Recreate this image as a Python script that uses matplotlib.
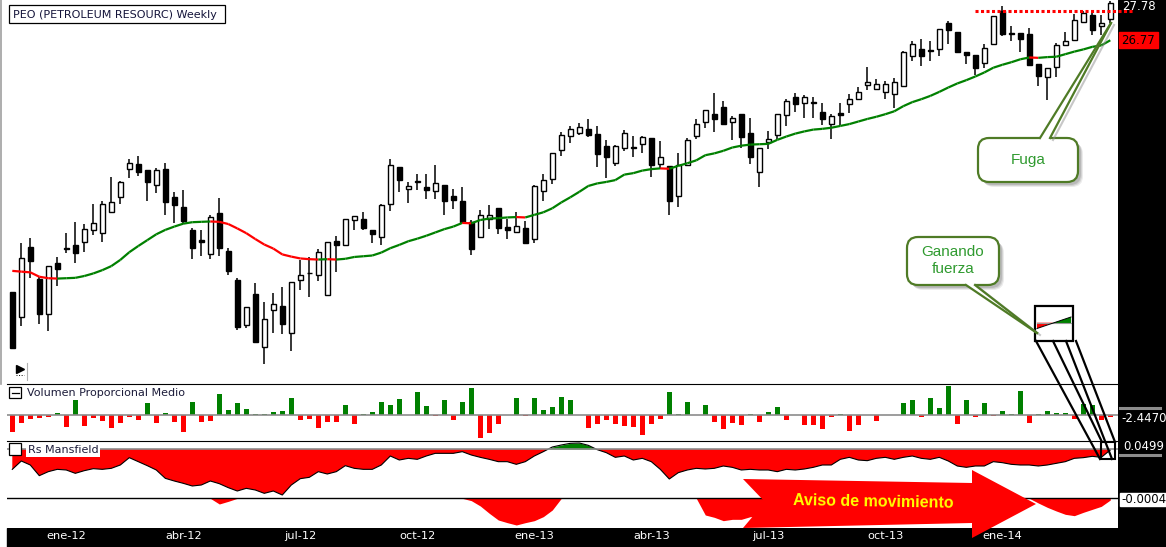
import matplotlib
matplotlib.use("Agg")
import numpy as np
import matplotlib.pyplot as plt
from matplotlib.collections import LineCollection
from matplotlib.patches import Rectangle, Polygon, FancyBboxPatch

W, H = 1166, 547

# weekly candles, PEO
opens = [19.88, 19.21, 21.13, 20.24, 19.29, 20.69, 21.09, 21.19, 21.25, 21.59,
         21.50, 22.08, 22.48, 23.24, 23.38, 23.22, 22.81, 23.24, 22.48, 22.21,
         21.59, 21.31, 20.92, 22.04, 21.00, 20.21, 18.99, 19.83, 18.38, 19.39,
         19.50, 18.77, 20.21, 20.42, 20.35, 19.80, 21.28, 21.17, 21.85, 21.90,
         21.60, 21.39, 22.31, 23.32, 22.72, 22.92, 22.76, 22.64, 22.81, 22.51,
         22.37, 21.81, 21.39, 21.90, 22.18, 21.66, 21.52, 21.63, 21.33, 22.64,
         22.97, 23.76, 24.15, 24.25, 24.34, 24.20, 23.87, 23.43, 23.82, 23.85,
         23.93, 24.09, 23.38, 23.33, 22.51, 23.37, 24.15, 24.53, 24.75, 24.94,
         24.55, 24.75, 24.25, 23.16, 23.98, 24.17, 24.72, 25.21, 25.05, 25.07,
         24.80, 24.47, 24.77, 25.04, 25.16, 25.54, 25.43, 25.37, 25.29, 25.51,
         26.33, 26.52, 26.50, 26.52, 27.23, 26.99, 26.44, 26.36, 26.14, 26.66,
         27.56, 26.96, 26.96, 26.93, 26.11, 25.76, 26.03, 26.63, 26.77, 27.26,
         27.45, 27.15, 27.34]
highs = [19.90, 21.22, 21.36, 20.31, 20.61, 20.85, 21.50, 21.80, 21.74, 22.30,
         22.37, 23.03, 22.93, 23.54, 23.61, 23.22, 23.27, 23.43, 22.62, 22.68,
         21.64, 21.59, 22.01, 22.45, 21.09, 20.27, 19.49, 20.13, 19.61, 19.86,
         20.04, 20.18, 20.77, 20.86, 21.07, 21.25, 21.41, 21.88, 21.96, 22.08,
         21.60, 22.30, 23.52, 23.32, 22.90, 23.12, 23.12, 23.36, 22.81, 22.70,
         22.75, 21.86, 22.12, 22.26, 22.18, 21.90, 22.07, 21.82, 22.81, 23.12,
         23.68, 24.26, 24.43, 24.50, 24.62, 24.42, 24.04, 23.90, 24.31, 24.15,
         24.15, 24.09, 24.01, 23.33, 23.68, 24.09, 24.61, 24.86, 25.32, 25.10,
         24.70, 24.75, 24.66, 23.84, 24.28, 24.75, 25.16, 25.32, 25.27, 25.21,
         25.05, 24.75, 25.05, 25.29, 25.48, 26.04, 25.70, 25.65, 25.73, 26.47,
         26.74, 26.80, 26.74, 27.07, 27.29, 26.99, 26.44, 26.36, 26.66, 27.42,
         27.70, 27.15, 26.96, 27.10, 26.11, 26.00, 26.69, 26.99, 27.48, 27.56,
         27.56, 27.45, 27.84]
lows = [18.33, 18.97, 20.28, 19.01, 18.84, 20.07, 20.95, 20.68, 20.99, 21.44,
        21.26, 22.08, 22.31, 23.02, 23.07, 22.39, 22.61, 22.01, 21.77, 21.75,
        20.79, 20.89, 20.79, 20.89, 20.37, 18.85, 18.90, 18.49, 17.92, 18.76,
        18.74, 18.27, 19.94, 19.75, 20.20, 19.80, 20.43, 21.17, 21.60, 21.59,
        21.22, 21.19, 22.11, 22.63, 22.33, 22.68, 22.43, 22.43, 22.01, 22.16,
        21.81, 20.90, 21.39, 21.62, 21.49, 21.35, 21.50, 21.21, 21.24, 22.38,
        22.85, 23.62, 23.97, 24.17, 24.14, 23.32, 23.02, 23.34, 23.75, 23.59,
        23.70, 23.03, 23.24, 22.01, 22.22, 23.37, 24.06, 24.36, 24.27, 24.46,
        24.04, 23.82, 23.38, 22.77, 23.79, 24.06, 24.42, 24.80, 24.64, 24.64,
        24.45, 24.06, 24.45, 24.77, 25.16, 25.40, 25.40, 25.17, 24.91, 25.51,
        26.19, 26.06, 26.19, 26.33, 26.66, 26.41, 26.11, 25.81, 26.00, 26.66,
        26.88, 26.74, 26.44, 26.09, 25.51, 25.13, 25.76, 26.63, 26.77, 27.26,
        26.91, 26.91, 27.23]
closes = [18.35, 20.81, 20.73, 19.29, 20.61, 20.53, 21.08, 20.95, 21.62, 21.77,
          22.30, 22.34, 22.89, 23.41, 23.16, 22.91, 23.22, 22.34, 22.28, 21.84,
          21.09, 21.25, 21.93, 21.09, 20.48, 18.93, 19.49, 18.52, 19.15, 19.56,
          19.01, 20.18, 20.37, 20.41, 20.98, 21.25, 21.17, 21.88, 21.96, 21.63,
          21.47, 22.26, 23.35, 22.95, 22.78, 22.91, 22.69, 22.86, 22.39, 22.40,
          21.81, 21.08, 22.01, 22.01, 21.65, 21.60, 21.69, 21.24, 22.78, 22.96,
          23.68, 24.17, 24.34, 24.41, 24.19, 23.67, 23.59, 23.87, 24.23, 23.84,
          24.12, 23.37, 23.57, 22.39, 23.36, 24.04, 24.47, 24.86, 24.61, 24.49,
          24.64, 24.12, 23.57, 23.84, 24.06, 24.75, 25.10, 25.04, 25.21, 25.06,
          24.61, 24.69, 24.72, 25.16, 25.35, 25.62, 25.57, 25.57, 25.62, 26.44,
          26.66, 26.33, 26.49, 27.07, 27.04, 26.44, 26.36, 26.00, 26.55, 27.42,
          26.93, 26.95, 26.80, 26.09, 25.79, 26.00, 26.63, 26.74, 27.31, 27.51,
          27.04, 27.23, 27.78]

# 30 week moving average as drawn on the chart
ma30 = [20.47, 20.45, 20.43, 20.31, 20.27, 20.26, 20.27, 20.28, 20.33, 20.40,
        20.49, 20.60, 20.77, 20.98, 21.15, 21.31, 21.47, 21.59, 21.68, 21.76,
        21.80, 21.81, 21.82, 21.81, 21.75, 21.63, 21.50, 21.34, 21.19, 21.08,
        20.92, 20.86, 20.81, 20.79, 20.78, 20.79, 20.78, 20.80, 20.85, 20.87,
        20.89, 20.97, 21.09, 21.18, 21.28, 21.35, 21.43, 21.52, 21.61, 21.68,
        21.78, 21.77, 21.86, 21.90, 21.91, 21.93, 21.94, 21.93, 22.00, 22.07,
        22.18, 22.34, 22.48, 22.63, 22.79, 22.86, 22.90, 22.95, 23.10, 23.14,
        23.21, 23.25, 23.27, 23.26, 23.34, 23.41, 23.49, 23.63, 23.68, 23.75,
        23.84, 23.89, 23.92, 23.93, 23.94, 24.05, 24.14, 24.22, 24.28, 24.33,
        24.35, 24.38, 24.43, 24.48, 24.55, 24.62, 24.68, 24.75, 24.83, 24.97,
        25.08, 25.16, 25.25, 25.36, 25.48, 25.59, 25.68, 25.78, 25.89, 26.02,
        26.10, 26.17, 26.25, 26.30, 26.29, 26.31, 26.32, 26.39, 26.46, 26.52,
        26.59, 26.63, 26.77]

# Volumen Proporcional Medio
volume = [-50, -25, -13, -10, -5, 6, -35, 45, -32, -10,
          -17, -38, -23, -5, -16, 36, -23, 6, -20, -50,
          39, -20, -17, 63, 15, 36, 18, 4, 4, 9,
          12, 51, -16, -13, -38, -20, -20, 30, -26, 4,
          9, 39, 30, 48, 0, 69, 27, -3, 45, -14,
          39, 81, -68, -53, -26, 0, 51, -3, 51, 15,
          24, 54, 45, 0, -38, -26, -14, -26, -32, -35,
          -59, -26, -11, 69, 4, 39, 0, 30, -20, -41,
          -23, -29, 4, -20, 9, 24, -14, 0, -29, -29,
          -41, -5, 3, -47, -29, 0, -17, 0, 0, 36,
          45, -7, 51, 21, 87, -26, 45, -7, 36, -3,
          12, 3, 72, -23, 3, 12, 6, 6, -11, 33,
          30, -14, -7]

# Rs Mansfield (upper trace) and its lower trace
rs_mansfield = [-0.61, -0.36, -0.48, -0.80, -0.68, -0.61, -0.63, -0.73, -0.65, -0.59,
                -0.61, -0.58, -0.48, -0.26, -0.38, -0.50, -0.63, -0.88, -0.96, -1.03,
                -1.11, -1.08, -0.96, -1.04, -1.16, -1.26, -1.18, -1.23, -1.33, -1.26,
                -1.38, -1.08, -0.89, -0.85, -0.68, -0.75, -0.68, -0.50, -0.58, -0.61,
                -0.61, -0.48, -0.21, -0.33, -0.28, -0.31, -0.21, -0.13, -0.13, -0.13,
                -0.08, -0.18, -0.25, -0.31, -0.38, -0.38, -0.46, -0.38, -0.21, -0.08,
                0.06, 0.12, 0.17, 0.18, 0.11, -0.02, -0.11, -0.25, -0.21, -0.33,
                -0.28, -0.38, -0.61, -0.90, -0.71, -0.63, -0.58, -0.60, -0.58, -0.51,
                -0.55, -0.63, -0.61, -0.63, -0.63, -0.68, -0.61, -0.63, -0.60, -0.55,
                -0.48, -0.48, -0.31, -0.25, -0.33, -0.35, -0.28, -0.25, -0.31, -0.25,
                -0.21, -0.28, -0.31, -0.25, -0.36, -0.51, -0.55, -0.51, -0.51, -0.38,
                -0.41, -0.46, -0.48, -0.48, -0.51, -0.48, -0.43, -0.38, -0.28, -0.26,
                -0.22, -0.25, -0.03]
rs_lower = [0, 0, 0, 0, 0, 0, 0, 0, 0, 0,
            0, 0, 0, 0, 0, 0, 0, 0, 0, 0,
            0, 0, 0, -0.17, -0.09, 0, 0, 0, 0, 0,
            0, 0, 0, 0, 0, 0, 0, 0, 0, 0,
            0, 0, 0, 0, 0, 0, 0, 0, 0, 0,
            0, -0.07, -0.23, -0.45, -0.65, -0.73, -0.80, -0.73, -0.67, -0.55,
            -0.35, 0, 0, 0, 0, 0, 0, 0, 0, 0,
            0, 0, 0, 0, 0, 0, 0, -0.50, -0.57, -0.67,
            -0.63, -0.63, -0.55, -0.55, -0.50, -0.48, -0.45, -0.40, -0.35, -0.30,
            -0.22, -0.15, -0.08, 0, 0, 0, 0, 0, 0, 0,
            0, 0, 0, 0, 0, 0, 0, 0, 0, 0,
            0, 0, 0, 0, -0.14, -0.27, -0.38, -0.48, -0.52, -0.42,
            -0.33, -0.24, -0.05]

tick_pos = [6, 19, 32, 45, 58, 71, 84, 97, 110]
tick_labels = ["ene-12", "abr-12", "jul-12", "oct-12", "ene-13",
               "abr-13", "jul-13", "oct-13", "ene-14"]

GREEN = "#008000"
RED = "#ff0000"

o = np.array(opens)
h = np.array(highs)
l = np.array(lows)
c = np.array(closes)
ma = np.array(ma30)
vol = np.array(volume)
rs = np.array(rs_mansfield)
rs2 = np.array(rs_lower)
x = np.arange(len(c))

fig = plt.figure(figsize=(W / 100, H / 100), dpi=100)
fig.patch.set_facecolor("white")


def px_axes(x0, y0, x1, y1):
    ax = fig.add_axes([x0 / W, 1 - y1 / H, (x1 - x0) / W, (y1 - y0) / H])
    for s in ax.spines.values():
        s.set_visible(False)
    ax.set_xticks([])
    ax.set_yticks([])
    ax.set_xlim((7 - 12.3) / 9, (1118 - 12.3) / 9)
    return ax


# black scale strips (right and bottom)
fig.add_artist(Rectangle((1118 / W, 0), (W - 1118) / W, 1, transform=fig.transFigure,
                         color="black", zorder=-1))
fig.add_artist(Rectangle((7 / W, 0), (W - 7) / W, (H - 528) / H, transform=fig.transFigure,
                         color="black", zorder=-1))

# --- price panel
ax_p = px_axes(7, 0, 1118, 384)
ax_p.set_ylim(17.38, 27.87)
ax_p.vlines(x, l, h, color="black", lw=1.1, zorder=2)
body_lo = np.minimum(o, c)
body_h = np.maximum(np.abs(c - o), 0.012)
ax_p.bar(x, body_h, bottom=body_lo, width=0.56,
         color=np.where(c >= o, "white", "black"), edgecolor="black", linewidth=1, zorder=3)

pts = np.column_stack([x, ma])
segs = np.stack([pts[:-1], pts[1:]], axis=1)
seg_cols = np.where(np.diff(ma) < 0, RED, GREEN)
ax_p.add_collection(LineCollection(segs, colors=seg_cols, linewidths=1.6, zorder=4))

# resistance (dotted)
ax_p.plot([107.0, 124.5], [o[110], o[110]], color=RED, lw=2.2, ls=(0, (1.0, 0.8)),
          clip_on=False, zorder=6)

# --- volume panel
ax_v = px_axes(7, 384, 1118, 441)
ax_v.set_ylim(-78, 93)
ax_v.spines["top"].set_visible(True)
ax_v.spines["top"].set_color("black")
ax_v.bar(x, vol, width=0.52, color=np.where(vol >= 0, GREEN, RED), zorder=2)
ax_v.axhline(0, color="#8c8c8c", lw=1.2, zorder=3)

# --- Rs Mansfield panel
ax_r = px_axes(7, 441, 1118, 528)
ax_r.set_ylim(-2.37, 0.24)
ax_r.spines["top"].set_visible(True)
ax_r.spines["top"].set_color("black")
ax_r.fill_between(x, 0, rs, where=rs <= 0, interpolate=True, color=RED, lw=0)
ax_r.fill_between(x, 0, rs, where=rs >= 0, interpolate=True, color=GREEN, lw=0)
ax_r.plot(x, rs, color="black", lw=0.8)
ax_r.axhline(0, color="#8c8c8c", lw=1.2)
ax_r.set_xticks(tick_pos, tick_labels)
ax_r.tick_params(axis="x", length=0, pad=2, labelcolor="white", labelsize=8.2)

ax_r2 = ax_r.twinx()
ax_r2.set_ylim(-0.89, 1.72)
for s in ax_r2.spines.values():
    s.set_visible(False)
ax_r2.set_yticks([])
ax_r2.fill_between(x, 0, rs2, color=RED, lw=0)
ax_r2.axhline(0, color="black", lw=1)

# --- overlay in pixel coordinates for labels and drawings
ax_o = fig.add_axes([0, 0, 1, 1], zorder=20)
ax_o.set_xlim(0, W)
ax_o.set_ylim(H, 0)
ax_o.axis("off")

ax_o.plot([1, 1], [0, 384], color="#a0a0a0", lw=1.2)
ax_o.add_patch(Rectangle((9, 5), 216, 18, fc="white", ec="black", lw=0.9))
ax_o.text(13, 14.5, "PEO (PETROLEUM RESOURC) Weekly", fontsize=8, va="center",
          color="#14143a")
ax_o.plot(20, 369, marker=">", ms=6, color="black")
ax_o.plot([16, 24], [375, 375], color="black", lw=0.7, ls=":")
ax_o.plot([27, 27], [363, 380], color="#b0b0b0", lw=0.8)

ax_o.add_patch(Rectangle((9, 387), 12, 11, fc="white", ec="black", lw=0.9))
ax_o.plot([11.5, 18.5], [392.5, 392.5], color="black", lw=0.9)
ax_o.text(27, 393, "Volumen Proporcional Medio", fontsize=8, va="center", color="#1c1c3a")
ax_o.add_patch(Rectangle((9, 443), 12, 12, fc="white", ec="black", lw=0.9))
ax_o.text(28, 450, "Rs Mansfield", fontsize=8, va="center", color="#1c1c3a",
          bbox=dict(fc="white", ec="none", pad=1.2))

# right scale labels
ax_o.text(1122, 7, f"{c[-1]:.2f}", color="white", fontsize=8.5, va="center")
ax_o.add_patch(Rectangle((1119, 32), 39, 16, color=RED))
ax_o.text(1138.5, 40, f"{ma[-1]:.2f}", color="black", fontsize=8.5, ha="center", va="center")
ax_o.plot([1120, 1160], [408, 408], color="#8c8c8c", lw=2.2)
ax_o.plot([1120, 1160], [455, 455], color="#8c8c8c", lw=2.2)
ax_o.text(1121, 418, "-2.4470", color="white", fontsize=8.5, va="center")
ax_o.text(1123, 447, "0.0499", color="white", fontsize=8.5, va="center")
ax_o.add_patch(Rectangle((1120, 493), 46, 13, color="white"))
ax_o.text(1121, 499.5, "-0.0004", color="black", fontsize=8.5, va="center")

# arrow "Aviso de movimiento"
ax_o.add_patch(Polygon([(743, 479), (972, 483), (972, 470), (1036, 504), (972, 538),
                        (972, 523), (743, 528), (765, 502)], closed=True, fc=RED, ec="none"))
ax_o.text(873, 502, "Aviso de movimiento", color="#ffff00", fontsize=11.5,
          fontweight="bold", family="Liberation Sans", ha="center", va="center", rotation=-1)

EDGE = "#4f7b26"
TXT = "#2f9a2f"


def callout(x0, y0, x1, y1, base_y, bx0, bx1, tip, lines, ty):
    for off, a in ((5, 0.08), (4, 0.10), (3, 0.12)):
        ax_o.add_patch(FancyBboxPatch((x0 + off, y0 + off), x1 - x0, y1 - y0,
                                      boxstyle="round,pad=0,rounding_size=11",
                                      fc="black", ec="none", alpha=a))
    ax_o.plot([bx1 + 3, tip[0] + 3], [base_y + 2, tip[1] + 2], color="#909090", lw=1.5, alpha=0.5)
    ax_o.add_patch(FancyBboxPatch((x0, y0), x1 - x0, y1 - y0,
                                  boxstyle="round,pad=0,rounding_size=11",
                                  fc="white", ec=EDGE, lw=1.6))
    inner = base_y + (3 if base_y < (y0 + y1) / 2 else -3)
    ax_o.add_patch(Polygon([(bx0, inner), (bx0, base_y), tip, (bx1, base_y), (bx1, inner)],
                           closed=True, fc="white", ec="none"))
    ax_o.plot([bx0, tip[0]], [base_y, tip[1]], color=EDGE, lw=1.6)
    ax_o.plot([bx1, tip[0]], [base_y, tip[1]], color=EDGE, lw=1.6)
    for t, yy in zip(lines, ty):
        ax_o.text((x0 + x1) / 2, yy, t, color=TXT, fontsize=11, family="Liberation Sans",
                  ha="center", va="center")


callout(978, 138, 1078, 182, 138, 1040, 1050, (1111, 23), ["Fuga"], [160])
callout(907, 237, 999, 285, 285, 966, 975, (1037, 333), ["Ganando", "fuerza"], [252, 269])

# magnified view of the last weeks of Rs Mansfield
ax_o.add_patch(Rectangle((1035, 306), 38, 35, fc="white", ec="black", lw=1.6))
ax_o.add_patch(Polygon([(1037, 322.7), (1053, 322.7), (1037, 328.5)], fc=RED, ec="none"))
ax_o.add_patch(Polygon([(1053, 322.7), (1071, 322.7), (1071, 317)], fc=GREEN, ec="none"))
ax_o.plot([1037, 1071], [322.7, 322.7], color="#9a9a9a", lw=0.8)
ax_o.plot([1037, 1071], [328.5, 317], color="black", lw=0.7)
ax_o.add_patch(Rectangle((1101, 442), 14, 17, fc="none", ec="black", lw=1.5))
for (xa, ya), (xb, yb) in [((1036, 341), (1100, 459)), ((1053, 341), (1102, 442)),
                           ((1066, 341), (1112, 459)), ((1076, 341), (1115, 442))]:
    ax_o.plot([xa, xb], [ya, yb], color="black", lw=1.6)

fig.savefig("out.png", dpi=100)
